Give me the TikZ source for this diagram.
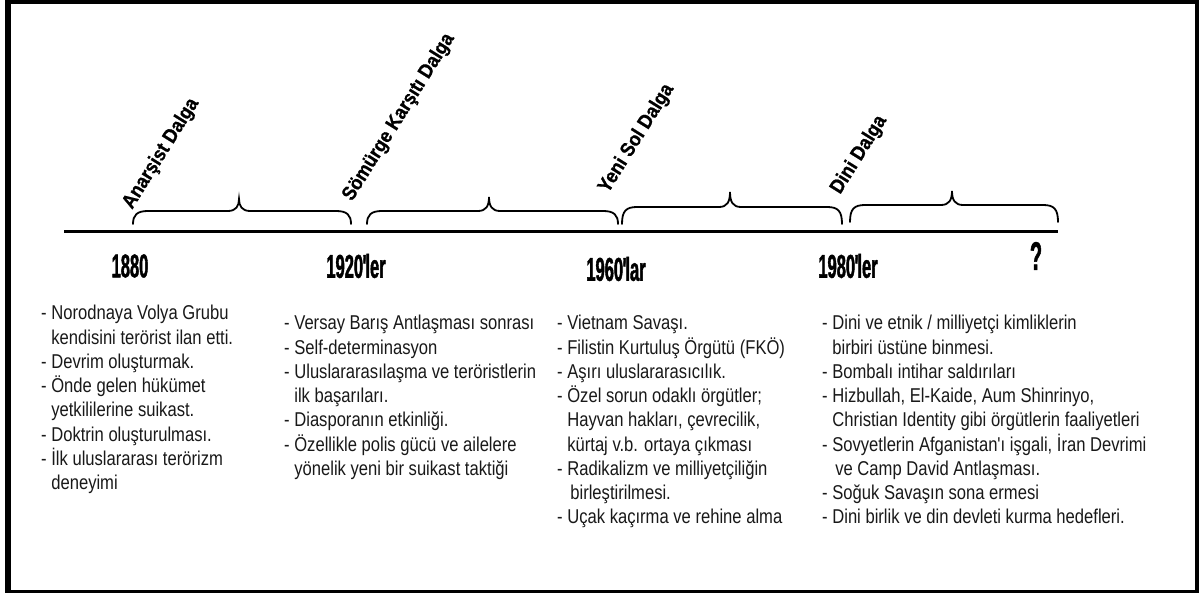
\documentclass[tikz,border=0pt]{standalone}
\usepackage{fontspec}
\setmainfont{Liberation Sans}
\newfontfamily\bodyfont[FakeStretch=0.83]{Liberation Sans}
\newfontfamily\yearfont[FakeStretch=0.5,FakeBold=1.2]{Liberation Sans}
\newfontfamily\wavefont[FakeStretch=0.9,FakeBold=0.8]{Liberation Sans}
\newcommand\ind{\hphantom{-\ }}
\newcommand\tick{\kern-0.5pt\textquotesingle\kern-5pt}
\begin{document}
\begin{tikzpicture}[x=1pt,y=-1pt,
  body/.style={anchor=base west,inner sep=0pt,font=\bodyfont\fontsize{20}{24}\selectfont,text=black!90},
  year/.style={anchor=center,inner sep=0pt,font=\yearfont\bfseries\fontsize{33}{33}\selectfont},
  wave/.style={anchor=base west,inner sep=0pt,rotate=58,font=\wavefont\bfseries\fontsize{20}{20}\selectfont},
  axisline/.style={line width=3pt},
  bracepath/.style={line width=1.8pt,line cap=round}]
\useasboundingbox (0,0) rectangle (1199,593);
\fill[black] (5,0) rectangle (1199,593);
\fill[white] (11,4) rectangle (1195,590);
% axis
\coordinate (axL) at (64,232);
\coordinate (axR) at (1058,232);
\draw[axisline] (axL) -- (axR);
% braces: xl, xr, xm, base, flat, tip
\foreach \xl/\xr/\xm/\yb/\yf/\yt in {133/351/239/224/211/199, 367/618/489/224/211/197, 622/842/730/224/207/192, 850/1058/952/222/205/191}{
  \draw[bracepath] (\xl,\yb) .. controls (\xl,\yf+4) and (\xl+4,\yf) .. (\xl+15,\yf)
    -- (\xm-11,\yf) .. controls (\xm-3,\yf) and (\xm,\yf-5) .. (\xm,\yt)
    .. controls (\xm,\yf-5) and (\xm+3,\yf) .. (\xm+11,\yf)
    -- (\xr-15,\yf) .. controls (\xr-4,\yf) and (\xr,\yf+4) .. (\xr,\yb);
}
% wave labels
\node[wave] (w1) at (132,210) {Anarşist Dalga};
\node[wave] (w2) at (352,202) {Sömürge Karşıtı Dalga};
\node[wave] (w3) at (608,194) {Yeni Sol Dalga};
\node[wave] (w4) at (840,195) {Dini Dalga};
% years
\node[year] (y1) at (130,266) {1880};
\node[year] (y2) at (356,266) {1920\tick ler};
\node[year] (y3) at (616,269) {1960\tick lar};
\node[year] (y4) at (848,266) {1980\tick ler};
\node[year,font=\yearfont\bfseries\fontsize{40}{40}\selectfont] (y5) at (1036,256) {?};
% column 1
\foreach \t [count=\i] in {{- Norodnaya Volya Grubu},{\ind kendisini terörist ilan etti.},{- Devrim oluşturmak.},{- Önde gelen hükümet},{\ind yetkililerine suikast.},{- Doktrin oluşturulması.},{- İlk uluslararası terörizm},{\ind deneyimi}}{
  \node[body] (a\i) at (41,320+24.2*\i-24.2) {\t};
}
% column 2
\foreach \t [count=\i] in {{- Versay Barış Antlaşması sonrası},{- Self-determinasyon},{- Uluslararasılaşma ve teröristlerin},{\ind ilk başarıları.},{- Diasporanın etkinliği.},{- Özellikle polis gücü ve ailelere},{\ind yönelik yeni bir suikast taktiği}}{
  \node[body] (b\i) at (284,330+24.2*\i-24.2) {\t};
}
% column 3
\foreach \t [count=\i] in {{- Vietnam Savaşı.},{- Filistin Kurtuluş Örgütü (FKÖ)},{- Aşırı uluslararasıcılık.},{- Özel sorun odaklı örgütler;},{\ind Hayvan hakları, çevrecilik,},{\ind kürtaj v.b. ortaya çıkması},{- Radikalizm ve milliyetçiliğin},{\ind\hspace{3pt}birleştirilmesi.},{- Uçak kaçırma ve rehine alma}}{
  \node[body] (c\i) at (557,330+24.2*\i-24.2) {\t};
}
% column 4
\foreach \t [count=\i] in {{- Dini ve etnik / milliyetçi kimliklerin},{\ind birbiri üstüne binmesi.},{- Bombalı intihar saldırıları},{- Hizbullah, El-Kaide, Aum Shinrinyo,},{\ind Christian Identity gibi örgütlerin faaliyetleri},{- Sovyetlerin Afganistan'ı işgali, İran Devrimi},{\ind\hspace{3pt}ve Camp David Antlaşması.},{- Soğuk Savaşın sona ermesi},{- Dini birlik ve din devleti kurma hedefleri.}}{
  \node[body] (d\i) at (822,330+24.2*\i-24.2) {\t};
}
\end{tikzpicture}
\end{document}
